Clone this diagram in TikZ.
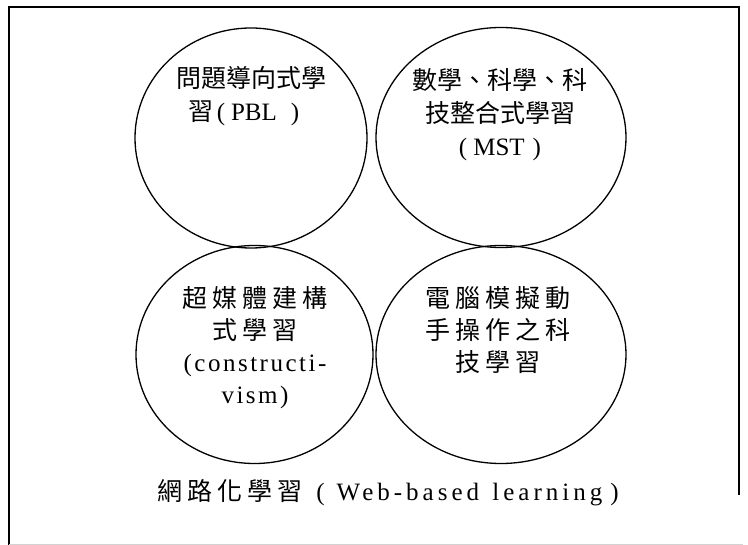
\documentclass[tikz,border=0pt]{standalone}
\usepackage{fontspec}
\setmainfont{Liberation Serif}
\newfontfamily\cjk{Noto Sans CJK TC}
\newfontfamily\cjkls{Noto Sans CJK TC}[LetterSpace=20]
\newfontfamily\serifls{Liberation Serif}[LetterSpace=10]
\newfontfamily\seriflsb{Liberation Serif}[LetterSpace=16]
\usetikzlibrary{shapes.geometric}
\begin{document}
\begin{tikzpicture}[x=1pt,y=-1pt,
  bubble/.style={draw, ellipse, line width=1.3pt, inner sep=0pt, outer sep=0pt},
  txt/.style={align=center, inner sep=0pt, anchor=north, font=\fontsize{25}{33}\selectfont},
  frameline/.style={line width=2pt}]
\useasboundingbox (0,0) rectangle (748,545);
% frame
\coordinate (fr1) at (739,495);
\coordinate (fr2) at (739,7);
\coordinate (fr3) at (9,7);
\coordinate (fr4) at (9,545);
\draw[frameline] (fr1) -- (fr2) -- (fr3) -- (fr4);
\coordinate (fb1) at (9,544.3);
\coordinate (fb2) at (743,544.3);
\draw[gray!35, line width=0.8pt] (fb1) -- (fb2);
% bubbles
\node[bubble, minimum width=232pt, minimum height=220pt] (pbl) at (251,138) {};
\node[bubble, minimum width=250pt, minimum height=220pt] (mst) at (501,137.5) {};
\node[bubble, minimum width=237pt, minimum height=218pt] (cons) at (254.5,354.5) {};
\node[bubble, minimum width=250pt, minimum height=218pt] (sim) at (501,354.5) {};
% texts
\node[txt] (tpbl) at (251,66) {\cjk 問題導向式學\\\makebox[0pt]{}{\cjk 習}\hspace{3pt}(\hspace{6pt}PBL\hspace{14pt})\makebox[14pt]{}};
\node[txt] (tmst) at (500,68) {\cjk 數學、科學、科\\{\cjk 技整合式學習}\\(\hspace{6pt}MST\hspace{8pt})};
\node[txt, font=\fontsize{25}{32}\selectfont] (tcons) at (255,286) {{\cjkls 超媒體建構}\\{\cjkls 式學習}\\{\serifls (constructi-}\\{\serifls vism)}};
\node[txt, font=\fontsize{25}{32}\selectfont] (tsim) at (498,286) {{\cjkls 電腦模擬動}\\{\cjkls 手操作之科}\\{\cjkls 技學習}};
\node[inner sep=0pt, font=\fontsize{25}{30}\selectfont] (web) at (388,493) {{\cjkls 網路化學習}\hspace{14pt}(\hspace{12pt}{\seriflsb Web-based\hspace{3pt} learning}\hspace{8pt})};
\end{tikzpicture}
\end{document}
